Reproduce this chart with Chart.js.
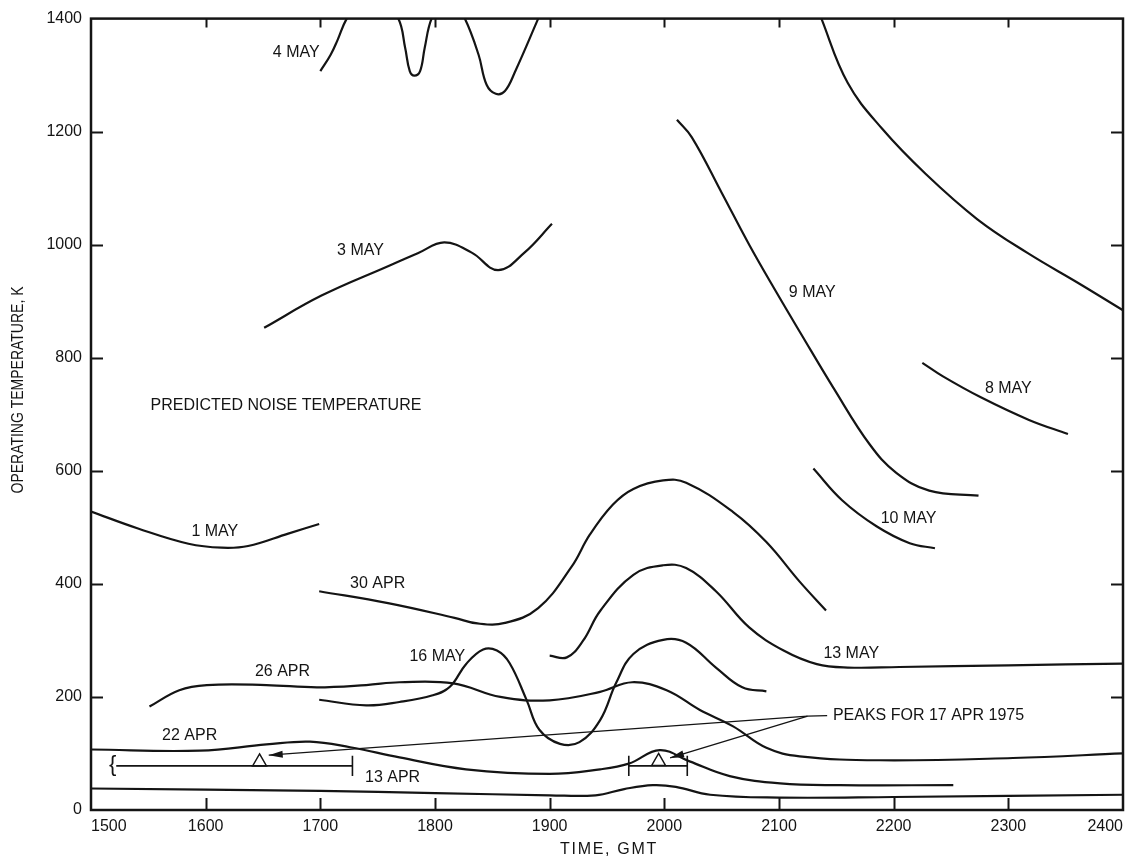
<!DOCTYPE html>
<html>
<head>
<meta charset="utf-8">
<title>Operating temperature vs time</title>
<script src="https://cdn.jsdelivr.net/npm/chart.js@4.4.1/dist/chart.umd.min.js"></script>
<style>
  html, body { margin: 0; padding: 0; background: #fff; }
  #wrap { width: 1134px; height: 867px; }
</style>
</head>
<body>
<div id="wrap"><canvas id="noiseChart" width="1134" height="867"></canvas></div>
<script>
// axis ticks
const timeTicks = [1500, 1600, 1700, 1800, 1900, 2000, 2100, 2200, 2300, 2400];
const tempTicks = [0, 200, 400, 600, 800, 1000, 1200, 1400];

// curves: time (GMT) and operating temperature (K)
const may4T = [1700, 1709, 1715, 1723, 1745, 1768, 1774, 1778, 1782, 1787, 1791, 1797, 1811, 1826, 1838, 1845, 1853, 1861, 1870, 1890, 1905];
const may4K = [1307, 1336, 1362, 1400, 1470, 1400, 1348, 1307, 1299, 1307, 1348, 1400, 1450, 1400, 1336, 1283, 1267, 1272, 1307, 1400, 1470];

const may3T = [1651, 1701, 1759, 1785, 1808, 1832, 1855, 1878, 1902];
const may3K = [853, 910, 962, 985, 1004, 986, 955, 986, 1037];

const upperT = [2128, 2137, 2160, 2190, 2228, 2273, 2317, 2362, 2400];
const upperK = [1450, 1400, 1286, 1205, 1125, 1045, 985, 931, 884];

const may9T = [2011, 2024, 2050, 2074, 2098, 2119, 2148, 2179, 2202, 2231, 2274];
const may9K = [1221, 1190, 1092, 1000, 915, 843, 745, 647, 597, 565, 556];

const may8T = [2225, 2243, 2276, 2318, 2352];
const may8K = [791, 767, 730, 690, 665];

const may10T = [2130, 2155, 2185, 2214, 2236];
const may10K = [604, 548, 502, 472, 463];

const may1T = [1500, 1541, 1585, 1614, 1637, 1672, 1699];
const may1K = [528, 498, 471, 464, 467, 489, 506];

const apr30T = [1699, 1759, 1817, 1837, 1861, 1890, 1919, 1935, 1955, 1973, 1999, 2019, 2060, 2089, 2118, 2141];
const apr30K = [387, 366, 340, 330, 331, 357, 430, 487, 540, 568, 583, 579, 527, 474, 404, 353];

const may13T = [1900, 1915, 1929, 1944, 1973, 1999, 2019, 2045, 2074, 2104, 2133, 2160, 2205, 2300, 2400];
const may13K = [273, 270, 299, 352, 416, 433, 428, 387, 323, 282, 258, 252, 253, 256, 259];

const may16T = [1699, 1740, 1769, 1798, 1813, 1827, 1842, 1854, 1865, 1880, 1891, 1909, 1926, 1944, 1958, 1973, 1999, 2019, 2045, 2068, 2089];
const may16K = [195, 185, 191, 203, 218, 258, 284, 282, 260, 194, 142, 117, 120, 159, 225, 276, 301, 296, 252, 217, 210];

const apr26T = [1551, 1577, 1601, 1653, 1697, 1740, 1769, 1816, 1857, 1900, 1944, 1972, 2002, 2031, 2060, 2089, 2118, 2188, 2304, 2400];
const apr26K = [183, 212, 221, 221, 217, 221, 226, 224, 200, 194, 209, 226, 212, 177, 148, 110, 95, 88, 92, 100];

const apr22T = [1500, 1595, 1653, 1691, 1726, 1769, 1827, 1900, 1944, 1969, 1996, 2022, 2057, 2101, 2153, 2252];
const apr22K = [107, 105, 116, 121, 111, 93, 72, 64, 72, 82, 106, 86, 60, 47, 44, 44];

const apr13T = [1500, 1700, 1800, 1900, 1940, 1965, 1990, 2010, 2040, 2100, 2200, 2400];
const apr13K = [38, 34, 30, 26, 26, 37, 44, 41, 27, 22, 23, 27];

// 17 APR 1975 peaks: time ranges and markers
const peakRangeT = [[1522, 1728], [1969, 2020]];
const peakRangeK = 78;
const peakMarkT = [1647, 1995];
const peakMarkK = [85, 86];
const arrowHubT = 2125, arrowHubK = 166;
const arrowTipT = [1655, 2005];
const arrowTipK = [97, 92];

const ink = '#141414';
const fontFamily = '"Liberation Sans", Arial, sans-serif';

const curveLabels = [
    { text: '4 MAY', t: 1679, k: 1339 },
    { text: '3 MAY', t: 1735, k: 989 },
    { text: '9 MAY', t: 2129, k: 916 },
    { text: '8 MAY', t: 2300, k: 745 },
    { text: '10 MAY', t: 2213, k: 515 },
    { text: '1 MAY', t: 1608, k: 492 },
    { text: '30 APR', t: 1750, k: 400 },
    { text: '16 MAY', t: 1802, k: 271 },
    { text: '26 APR', t: 1667, k: 244 },
    { text: '22 APR', t: 1586, k: 131 },
    { text: '13 APR', t: 1763, k: 57 },
    { text: '13 MAY', t: 2163, k: 276 },
    { text: 'PREDICTED NOISE TEMPERATURE', t: 1670, k: 716 }
];

function pairs(ts, ks) {
    return ts.map((t, i) => ({ x: t, y: ks[i] }));
}

function curve(label, ts, ks) {
    return {
        label: label,
        data: pairs(ts, ks),
        borderColor: ink,
        borderWidth: 2.2,
        pointRadius: 0,
        fill: false,
        tension: 0.4
    };
}

function segment(label, ts, ks, width) {
    return {
        label: label,
        data: pairs(ts, ks),
        borderColor: ink,
        borderWidth: width,
        pointRadius: 0,
        fill: false,
        tension: 0
    };
}

const datasets = [
    curve('4 MAY', may4T, may4K),
    curve('3 MAY', may3T, may3K),
    curve('upper', upperT, upperK),
    curve('9 MAY', may9T, may9K),
    curve('8 MAY', may8T, may8K),
    curve('10 MAY', may10T, may10K),
    curve('1 MAY', may1T, may1K),
    curve('30 APR', apr30T, apr30K),
    curve('13 MAY', may13T, may13K),
    curve('16 MAY', may16T, may16K),
    curve('26 APR', apr26T, apr26K),
    curve('22 APR', apr22T, apr22K),
    curve('13 APR', apr13T, apr13K)
];

// range bars with end ticks
peakRangeT.forEach((r, i) => {
    datasets.push(segment('range ' + i, r, [peakRangeK, peakRangeK], 1.6));
    if (i === 1) {
        datasets.push(segment('range tick a', [r[0], r[0]], [60, 96], 1.6));
    }
    datasets.push(segment('range tick b' + i, [r[1], r[1]], [60, 96], 1.6));
});

// leader lines from the label to the peaks
arrowTipT.forEach((t, i) => {
    datasets.push(segment('leader ' + i, [t, arrowHubT], [arrowTipK[i], arrowHubK], 1.3));
});
datasets.push(segment('leader stub', [arrowHubT, 2142], [arrowHubK, 167], 1.3));

datasets.push({
    label: 'peaks',
    data: pairs(peakMarkT, peakMarkK),
    showLine: false,
    pointStyle: 'triangle',
    pointRadius: 8,
    pointBorderWidth: 1.5,
    pointBorderColor: ink,
    pointBackgroundColor: 'rgba(0,0,0,0)'
});

const paperMarks = {
    id: 'paperMarks',
    afterDatasetsDraw(chart) {
        const { ctx, chartArea: a, scales: { x, y } } = chart;
        ctx.save();

        // frame and inward ticks
        ctx.strokeStyle = ink;
        ctx.lineWidth = 2.5;
        ctx.strokeRect(a.left, a.top, a.right - a.left, a.bottom - a.top);
        ctx.lineWidth = 2;
        ctx.beginPath();
        timeTicks.slice(1, -1).forEach(v => {
            const px = Math.round(x.getPixelForValue(v)) + 0.5;
            ctx.moveTo(px, a.bottom);
            ctx.lineTo(px, a.bottom - 12);
            ctx.moveTo(px, a.top);
            ctx.lineTo(px, a.top + 9);
        });
        tempTicks.slice(1, -1).forEach(v => {
            const py = Math.round(y.getPixelForValue(v)) + 0.5;
            ctx.moveTo(a.left, py);
            ctx.lineTo(a.left + 12, py);
            ctx.moveTo(a.right, py);
            ctx.lineTo(a.right - 12, py);
        });
        ctx.stroke();

        // arrow heads
        ctx.fillStyle = ink;
        const hx = x.getPixelForValue(arrowHubT), hy = y.getPixelForValue(arrowHubK);
        arrowTipT.forEach((t, i) => {
            const tx = x.getPixelForValue(t), ty = y.getPixelForValue(arrowTipK[i]);
            const ang = Math.atan2(ty - hy, tx - hx);
            ctx.save();
            ctx.translate(tx, ty);
            ctx.rotate(ang);
            ctx.beginPath();
            ctx.moveTo(0, 0);
            ctx.lineTo(-14, -3.5);
            ctx.lineTo(-14, 3.5);
            ctx.closePath();
            ctx.fill();
            ctx.restore();
        });

        // curve labels
        ctx.font = '16px ' + fontFamily;
        ctx.textAlign = 'center';
        ctx.textBaseline = 'middle';
        curveLabels.forEach(l => {
            ctx.fillText(l.text, x.getPixelForValue(l.t), y.getPixelForValue(l.k));
        });
        ctx.textAlign = 'left';
        ctx.fillText('PEAKS FOR 17 APR 1975', x.getPixelForValue(2147), y.getPixelForValue(167));

        // brace at the start of the first range
        ctx.font = '22px ' + fontFamily;
        ctx.textAlign = 'center';
        ctx.fillText('{', x.getPixelForValue(1519), y.getPixelForValue(peakRangeK) - 1);

        // axis titles
        ctx.font = '16px ' + fontFamily;
        ctx.save();
        ctx.translate(19, 390);
        ctx.rotate(-Math.PI / 2);
        const yTitle = 'OPERATING TEMPERATURE, K';
        const w = ctx.measureText(yTitle).width;
        ctx.scale(207 / w, 1);
        ctx.fillText(yTitle, 0, 0);
        ctx.restore();

        ctx.letterSpacing = '1.7px';
        ctx.fillText('TIME, GMT', (a.left + a.right) / 2 + 2, 850);
        ctx.restore();
    }
};

new Chart(document.getElementById('noiseChart'), {
    type: 'line',
    data: { datasets: datasets },
    options: {
        responsive: false,
        animation: false,
        devicePixelRatio: 1,
        layout: { padding: { top: 11, right: 11, left: 0, bottom: 0 } },
        plugins: {
            legend: { display: false },
            tooltip: { enabled: false }
        },
        scales: {
            x: {
                type: 'linear',
                min: 1500,
                max: 2400,
                afterBuildTicks: s => { s.ticks = timeTicks.map(v => ({ value: v })); },
                afterFit: s => { s.height = 57; },
                grid: { display: false, drawTicks: false },
                border: { display: false },
                ticks: {
                    align: 'inner',
                    autoSkip: false,
                    maxRotation: 0,
                    padding: 7,
                    color: ink,
                    font: { family: fontFamily, size: 16 },
                    callback: v => String(v)
                }
            },
            y: {
                type: 'linear',
                min: 0,
                max: 1400,
                afterBuildTicks: s => { s.ticks = tempTicks.map(v => ({ value: v })); },
                afterFit: s => { s.width = 91; },
                grid: { display: false, drawTicks: false },
                border: { display: false },
                ticks: {
                    padding: 9,
                    color: ink,
                    font: { family: fontFamily, size: 16 },
                    callback: v => String(v)
                }
            }
        }
    },
    plugins: [paperMarks]
});
</script>
</body>
</html>
